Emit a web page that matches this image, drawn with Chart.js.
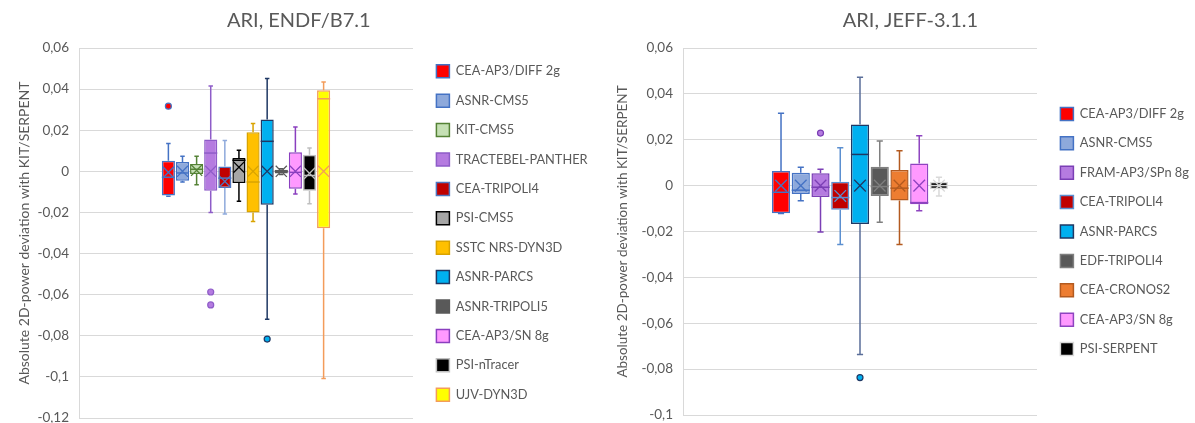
<!DOCTYPE html>
<html lang="en">
<head>
<meta charset="UTF-8">
<title>ARI box plots</title>
<script src="https://cdn.jsdelivr.net/npm/chart.js@4.4.1/dist/chart.umd.min.js"></script>
<style>
    body { margin: 0; background: #fff; overflow: hidden; }
    #wrap { position: relative; width: 1195px; height: 423px; overflow: hidden; }
    #leftBox { position: absolute; left: 0; top: 0; }
    #rightBox { position: absolute; left: 600px; top: 0; }
</style>
</head>
<body>
<div id="wrap">
    <div id="leftBox"><canvas id="endfChart" width="601" height="440"></canvas></div>
    <div id="rightBox"><canvas id="jeffChart" width="622" height="440"></canvas></div>
</div>

<script>
// ---- ENDF/B7.1 ----
const endfNames = ['CEA-AP3/DIFF 2g','ASNR-CMS5','KIT-CMS5','TRACTEBEL-PANTHER','CEA-TRIPOLI4','PSI-CMS5','SSTC NRS-DYN3D','ASNR-PARCS','ASNR-TRIPOLI5','CEA-AP3/SN 8g','PSI-nTracer','UJV-DYN3D'];
const endfLow    = [-0.0121,-0.0052,-0.0065,-0.0200,-0.0207,-0.0146,-0.0244,-0.0719,-0.0016,-0.0110,-0.0158,-0.1008];
const endfQ1     = [-0.0118,-0.0046,-0.0013,-0.0094,-0.0081,-0.0057,-0.0200,-0.0163,-0.0010,-0.0085,-0.0094,-0.0277];
const endfMedian = [-0.0029,-0.0008, 0.0010, 0.0089,-0.0033, 0.0054,-0.0052, 0.0146, 0.0000,-0.0005,-0.0020, 0.0353];
const endfQ3     = [ 0.0052, 0.0045, 0.0036, 0.0155, 0.0024, 0.0065, 0.0190, 0.0252, 0.0008, 0.0093, 0.0081, 0.0394];
const endfHigh   = [ 0.0135, 0.0073, 0.0073, 0.0415, 0.0150, 0.0102, 0.0233, 0.0452, 0.0012, 0.0216, 0.0114, 0.0434];
const endfMean   = [-0.0005, 0.0000, 0.0005, 0.0000,-0.0049, 0.0020, 0.0000, 0.0000, 0.0000, 0.0000,-0.0010, 0.0000];
const endfOutliers = [[0.0317],[],[],[-0.0587,-0.0650],[],[],[],[-0.0816],[],[],[],[]];
const endfTicks = [0.06,0.04,0.02,0,-0.02,-0.04,-0.06,-0.08,-0.1,-0.12];

// ---- JEFF-3.1.1 ----
const jeffNames = ['CEA-AP3/DIFF 2g','ASNR-CMS5','FRAM-AP3/SPn 8g','CEA-TRIPOLI4','ASNR-PARCS','EDF-TRIPOLI4','CEA-CRONOS2','CEA-AP3/SN 8g','PSI-SERPENT'];
const jeffLow    = [-0.0122,-0.0066,-0.0202,-0.0257,-0.0736,-0.0160,-0.0257,-0.0110,-0.0045];
const jeffQ1     = [-0.0120,-0.0037,-0.0050,-0.0105,-0.0167,-0.0045,-0.0065,-0.0081,-0.0016];
const jeffMedian = [-0.0029,-0.0020,-0.0007,-0.0052, 0.0136,-0.0004,-0.0011,-0.0074, 0.0000];
const jeffQ3     = [ 0.0064, 0.0056, 0.0054, 0.0017, 0.0267, 0.0082, 0.0068, 0.0097, 0.0017];
const jeffHigh   = [ 0.0316, 0.0080, 0.0071, 0.0165, 0.0472, 0.0195, 0.0152, 0.0217, 0.0036];
const jeffMean   = [ 0.0000, 0.0000, 0.0000,-0.0045, 0.0000, 0.0000, 0.0000, 0.0000, 0.0000];
const jeffOutliers = [[],[],[0.0229],[],[-0.0837],[],[],[],[]];
const jeffTicks = [0.06,0.04,0.02,0,-0.02,-0.04,-0.06,-0.08,-0.1];

// colours (fill / outline / whisker)
const endfFill  = ['#FF0000','#8EA9DB','#C5E0B4','#B57BE0','#C00000','#A6A6A6','#FFC000','#00B0F0','#595959','#FF99FF','#000000','#FFFF00'];
const endfLine  = ['#4472C4','#4472C4','#548235','#8E5CC8','#4F76C0','#000000','#D9A300','#1F3864','#595959','#8A3FBF','#BFBFBF','#F39C5A'];
const endfWhisk = ['#4472C4','#4472C4','#548235','#8E5CC8','#8FAADC','#000000','#D9A300','#1F3864','#595959','#8A3FBF','#BFBFBF','#F39C5A'];
const jeffFill  = ['#FF0000','#8EA9DB','#B57BE0','#C00000','#00B0F0','#595959','#ED7D31','#FF99FF','#000000'];
const jeffLine  = ['#4472C4','#4472C4','#7B3FB5','#5B8FD0','#1F3864','#7F7F7F','#B35A1F','#8E44C0','#D9D9D9'];
const jeffWhisk = ['#4472C4','#4472C4','#7B3FB5','#5B8FD0','#5A6E99','#7F7F7F','#B35A1F','#8E44C0','#D9D9D9'];

const FONT = 'Lato';
const GREY = '#595959';
const LEG_SIZE = 12.8;
const LEG_PAD = 16.4;
const LEG_BOX = 13;
const GAP_AXIS = 7;

//disegna baffi, mediana, media (X) e punti isolati sopra le barre flottanti
const boxExtras = {
    id: 'boxExtras',
    afterDatasetsDraw(chart) {
        const ctx = chart.ctx;
        const ys = chart.scales.y;
        chart.data.datasets.forEach((ds, i) => {
            const bar = chart.getDatasetMeta(i).data[0];
            if (!bar) return;
            const st = ds.stats;
            const cx = bar.x, half = bar.width / 2;
            const cap = Math.max(2, bar.width * 0.17);
            const yHi = ys.getPixelForValue(st.high), yLo = ys.getPixelForValue(st.low);
            const yQ1 = ys.getPixelForValue(ds.data[0][0]), yQ3 = ys.getPixelForValue(ds.data[0][1]);
            ctx.save();
            ctx.lineWidth = 1.5;
            ctx.strokeStyle = st.whisker;
            ctx.beginPath();
            ctx.moveTo(cx, yQ3); ctx.lineTo(cx, yHi);
            ctx.moveTo(cx - cap, yHi); ctx.lineTo(cx + cap, yHi);
            ctx.moveTo(cx, yQ1); ctx.lineTo(cx, yLo);
            ctx.moveTo(cx - cap, yLo); ctx.lineTo(cx + cap, yLo);
            ctx.stroke();

            // mediana
            ctx.strokeStyle = ds.borderColor;
            const yMed = ys.getPixelForValue(st.median);
            ctx.beginPath();
            ctx.moveTo(cx - half, yMed); ctx.lineTo(cx + half, yMed);
            ctx.stroke();

            // media = X
            const yMean = ys.getPixelForValue(st.mean);
            const s = Math.min(5.8, half - 1);
            ctx.lineWidth = 1.3;
            ctx.beginPath();
            ctx.moveTo(cx - s, yMean - s); ctx.lineTo(cx + s, yMean + s);
            ctx.moveTo(cx - s, yMean + s); ctx.lineTo(cx + s, yMean - s);
            ctx.stroke();

            // outliers
            ctx.lineWidth = 1.2;
            ctx.fillStyle = ds.backgroundColor;
            st.outliers.forEach(v => {
                ctx.beginPath();
                ctx.arc(cx, ys.getPixelForValue(v), 3, 0, Math.PI * 2);
                ctx.fill();
                ctx.stroke();
            });
            ctx.restore();
        });
    }
};

function fmtTick(v) {
    return Number(v.toFixed(2)).toString().replace('.', ',');
}

//larghezza naturale della legenda (come la calcola Chart.js), per fissare l'area del grafico
function legendWidth(names) {
    const ctx = document.createElement('canvas').getContext('2d');
    ctx.font = LEG_SIZE + 'px ' + FONT;
    let maxW = 0;
    names.forEach(n => { maxW = Math.max(maxW, ctx.measureText(n).width); });
    return LEG_PAD + LEG_BOX + LEG_SIZE / 2 + maxW + 10;
}

//asse vuoto usato solo come spaziatore a destra
function spacer(width, weight) {
    return {
        position: 'right',
        display: true,
        weight: weight,
        grid: { display: false },
        border: { display: false },
        ticks: { display: false },
        afterFit: s => { s.width = width; }
    };
}

function makeChart(canvasId, c) {
    const canvas = document.getElementById(canvasId);
    const legW = legendWidth(c.names);
    const padRight = canvas.width - c.areaRight - GAP_AXIS - legW - c.outerPad;
    const datasets = c.names.map((n, i) => ({
        label: n,
        data: [[c.q1[i], c.q3[i]]],
        backgroundColor: c.fill[i],
        borderColor: c.line[i],
        borderWidth: 1.5,
        borderSkipped: false,
        barPercentage: c.barPct,
        categoryPercentage: c.catPct,
        stats: { low: c.low[i], high: c.high[i], median: c.median[i], mean: c.mean[i],
                 outliers: c.outliers[i], whisker: c.whisk[i] }
    }));
    return new Chart(canvas, {
        type: 'bar',
        data: { labels: [''], datasets: datasets },
        plugins: [boxExtras],
        options: {
            responsive: false,
            animation: false,
            layout: { padding: { left: 0, top: 0, right: padRight, bottom: c.padBottom } },
            scales: {
                x: { display: false },
                y: {
                    min: c.ticks[c.ticks.length - 1],
                    max: c.ticks[0],
                    afterBuildTicks: s => { s.ticks = c.ticks.map(v => ({ value: v })); },
                    afterFit: s => { s.width = c.axisWidth; },
                    grid: { color: '#D9D9D9', lineWidth: 1, drawTicks: false },
                    border: { display: true, color: '#D9D9D9', width: 1 },
                    ticks: { color: GREY, padding: 10, font: { family: FONT, size: 13.5 }, callback: fmtTick },
                    title: {
                        display: true,
                        text: 'Absolute 2D-power deviation with KIT/SERPENT',
                        color: GREY,
                        font: { family: FONT, size: c.axisFont },
                        padding: { top: c.axisTitleTop, bottom: 0 }
                    }
                },
                yGap: spacer(GAP_AXIS, 0),
                yOuter: spacer(c.outerPad, 2000)
            },
            plugins: {
                tooltip: { enabled: false },
                title: {
                    display: true,
                    text: c.title,
                    color: GREY,
                    font: { family: FONT, size: 20, weight: 'normal' },
                    padding: { top: 9, bottom: 15 }
                },
                legend: {
                    position: 'right',
                    fullSize: false,
                    maxWidth: legW + 2,
                    labels: {
                        color: GREY,
                        font: { family: FONT, size: LEG_SIZE },
                        boxWidth: LEG_BOX,
                        boxHeight: LEG_BOX,
                        padding: LEG_PAD
                    }
                }
            }
        }
    });
}

makeChart('endfChart', {
    title: 'ARI, ENDF/B7.1',
    names: endfNames, low: endfLow, q1: endfQ1, median: endfMedian, q3: endfQ3, high: endfHigh,
    mean: endfMean, outliers: endfOutliers, ticks: endfTicks,
    fill: endfFill, line: endfLine, whisk: endfWhisk,
    barPct: 0.93, catPct: 0.507,
    axisWidth: 79, axisFont: 14, axisTitleTop: 15.6,
    areaRight: 413, padBottom: 22, outerPad: 0
});

makeChart('jeffChart', {
    title: 'ARI, JEFF-3.1.1',
    names: jeffNames, low: jeffLow, q1: jeffQ1, median: jeffMedian, q3: jeffQ3, high: jeffHigh,
    mean: jeffMean, outliers: jeffOutliers, ticks: jeffTicks,
    fill: jeffFill, line: jeffLine, whisk: jeffWhisk,
    barPct: 0.92, catPct: 0.502,
    axisWidth: 83, axisFont: 13.5, axisTitleTop: 14.6,
    areaRight: 437, padBottom: 25, outerPad: 22
});
</script>
</body>
</html>
